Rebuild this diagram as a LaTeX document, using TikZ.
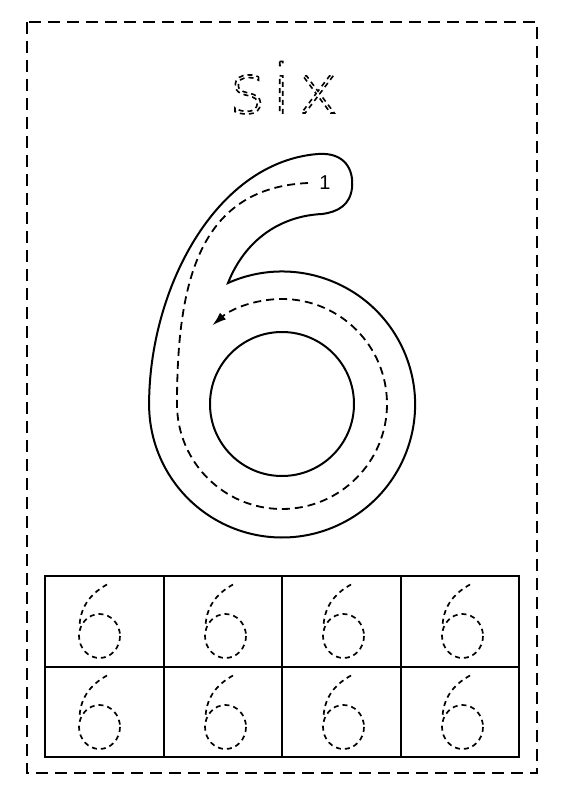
\documentclass[tikz,border=0pt]{standalone}
\usepackage{fontspec}
\usetikzlibrary{arrows.meta}
\newfontfamily\tracefont[LetterSpace=10]{DejaVu Sans ExtraLight}
\newfontfamily\numfont{Liberation Sans}
\newcommand{\dashedtext}[1]{\special{pdf:literal direct 1 Tr 1.6 w [5 4] 0 d}#1\special{pdf:literal direct 0 Tr [] 0 d}}

\begin{document}
\begin{tikzpicture}[x=1pt, y=-1pt,
    outline/.style={line width=2pt},
    guide/.style={line width=1.8pt, dash pattern=on 8pt off 5pt},
    smallguide/.style={line width=1.7pt, dash pattern=on 5pt off 4pt},
    tracesix/.pic={
        \draw[smallguide] (0,0) ellipse[x radius=20.5, y radius=22];
        \draw[smallguide] (7.5,-51.5) .. controls (-6,-44) and (-19,-32) .. (-20,-10);
    }]
    \useasboundingbox (0,0) rectangle (564,797);

    % Outer dashed border
    \draw[line width=2pt, dash pattern=on 12pt off 7pt] (27,22) rectangle (537,773);

    % Word to trace
    \node[anchor=base, inner sep=0pt] (title) at (284,113) {\fontsize{68}{68}\selectfont\tracefont\dashedtext{six}};

    % Big six: outer contour
    \draw[outline] (228,283) arc[start angle=-114, end angle=180, radius=133]
        .. controls (149,290) and (215,162) .. (318,154)
        .. controls (345,152) and (354,170) .. (352,188)
        .. controls (350,205) and (338,212) .. (322,214)
        .. controls (280,216) and (245,240) .. cycle;

    % Big six: inner circle
    \draw[outline] (282,404) circle[radius=72];

    % Stroke guide with arrow
    \draw[guide, -{Latex[length=14pt, width=9pt]}] (308,183)
        .. controls (200,188) and (177,280) .. (177,404)
        arc[start angle=180, end angle=-131.5, radius=105];
    \node[inner sep=0pt] (start) at (325,183) {\fontsize{20}{20}\selectfont\numfont 1};

    % Practice grid
    \draw[line width=2pt] (45,576) rectangle (519,757);
    \draw[line width=2pt] (45,666.5) -- (519,666.5);
    \foreach \x in {163.5,282,400.5}
        \draw[line width=2pt] (\x,576) -- (\x,757);

    % Tracing sixes
    \foreach \x in {99.5,225.5,343.5,462.5}
        \foreach \y in {636,727}
            \pic at (\x,\y) {tracesix};
\end{tikzpicture}
\end{document}
